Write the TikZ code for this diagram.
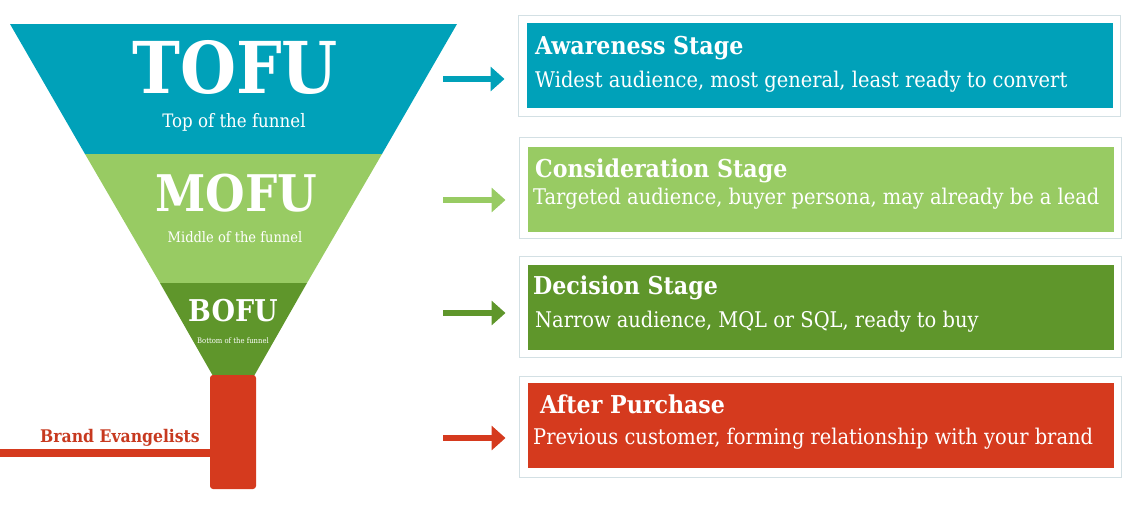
\documentclass[tikz,border=0pt]{standalone}
\usepackage{fontspec}
\setmainfont{DejaVu Serif Condensed}
\usetikzlibrary{arrows.meta}
\definecolor{tofu}{HTML}{00A1B9}
\definecolor{mofu}{HTML}{98CB63}
\definecolor{bofu}{HTML}{5F962B}
\definecolor{after}{HTML}{D53A1E}
\definecolor{frame}{HTML}{D3E0E4}
\definecolor{brand}{HTML}{C7391F}

\begin{document}
\begin{tikzpicture}[x=1pt,y=-1pt,
	frame/.style={draw=frame,line width=1pt,minimum width=602pt,minimum height=101pt,inner sep=0pt},
	band/.style={fill=#1,minimum width=586pt,minimum height=85pt,inner sep=0pt},
	head/.style={anchor=base west,text=white,inner sep=0pt,font=\bfseries\fontsize{24.6}{24.6}\selectfont},
	sub/.style={anchor=base west,text=white,inner sep=0pt,font=\fontsize{21.6}{21.6}\selectfont},
	big/.style={anchor=base,text=white,inner sep=0pt,font=\bfseries\fontsize{#1}{#1}\selectfont},
	small/.style={anchor=base,text=white,inner sep=0pt,font=\fontsize{#1}{#1}\selectfont},
	go/.style={draw=#1,line width=6.5pt,-{Triangle[length=14pt,width=24pt]},shorten >=13pt}]

	\useasboundingbox (0,0) rectangle (1134,504);

	% funnel
	\fill[tofu] (10,24) -- (457,24) -- (382,154) -- (85,154) -- cycle;
	\fill[mofu] (85,154) -- (382,154) -- (307,283) -- (160,283) -- cycle;
	\fill[bofu] (160,283) -- (307,283) -- (254,376) -- (213,376) -- cycle;
	\fill[after,rounded corners=3pt] (210,375) rectangle (256,489);
	\fill[after] (0,449) rectangle (226,457);

	\node[big=71.5] (tofu) at (235,93) {TOFU};
	\node[small=18.5] (tofutxt) at (234,127) {Top of the funnel};
	\node[big=50.5] (mofu) at (236,211) {MOFU};
	\node[small=14.5] (mofutxt) at (235,242) {Middle of the funnel};
	\node[big=30] (bofu) at (233,321) {BOFU};
	\node[small=7.6] (bofutxt) at (233,343) {Bottom of the funnel};
	\node[anchor=base west,text=brand,inner sep=0pt,font=\bfseries\fontsize{17.4}{17.4}\selectfont] (brand) at (40,442) {Brand Evangelists};

	% stages
	\node[frame] (f1) at (819,66) {};
	\node[band=tofu] (b1) at (820,65.5) {};
	\node[head] (t1) at (535,54) {Awareness Stage};
	\node[sub] (s1) at (535,87) {Widest audience, most general, least ready to convert};

	\node[frame] (f2) at (820,188) {};
	\node[band=mofu] (b2) at (820.5,189.5) {};
	\node[head] (t2) at (535,177) {Consideration Stage};
	\node[sub] (s2) at (533,204) {Targeted audience, buyer persona, may already be a lead};

	\node[frame] (f3) at (820,307) {};
	\node[band=bofu] (b3) at (820.5,307.5) {};
	\node[head] (t3) at (533,294) {Decision Stage};
	\node[sub] (s3) at (535,327) {Narrow audience, MQL or SQL, ready to buy};

	\node[frame] (f4) at (820,426.5) {};
	\node[band=after] (b4) at (820.5,425.5) {};
	\node[head] (t4) at (540,413) {After Purchase};
	\node[sub] (s4) at (533,444) {Previous customer, forming relationship with your brand};

	% arrows
	\coordinate (a1) at (443,79);
	\coordinate (a2) at (443,200);
	\coordinate (a3) at (443,313);
	\coordinate (a4) at (443,438);
	\draw[go=tofu] (a1) -- (a1 -| f1.west);
	\draw[go=mofu] (a2) -- (a2 -| f2.west);
	\draw[go=bofu] (a3) -- (a3 -| f3.west);
	\draw[go=after] (a4) -- (a4 -| f4.west);
\end{tikzpicture}
\end{document}
